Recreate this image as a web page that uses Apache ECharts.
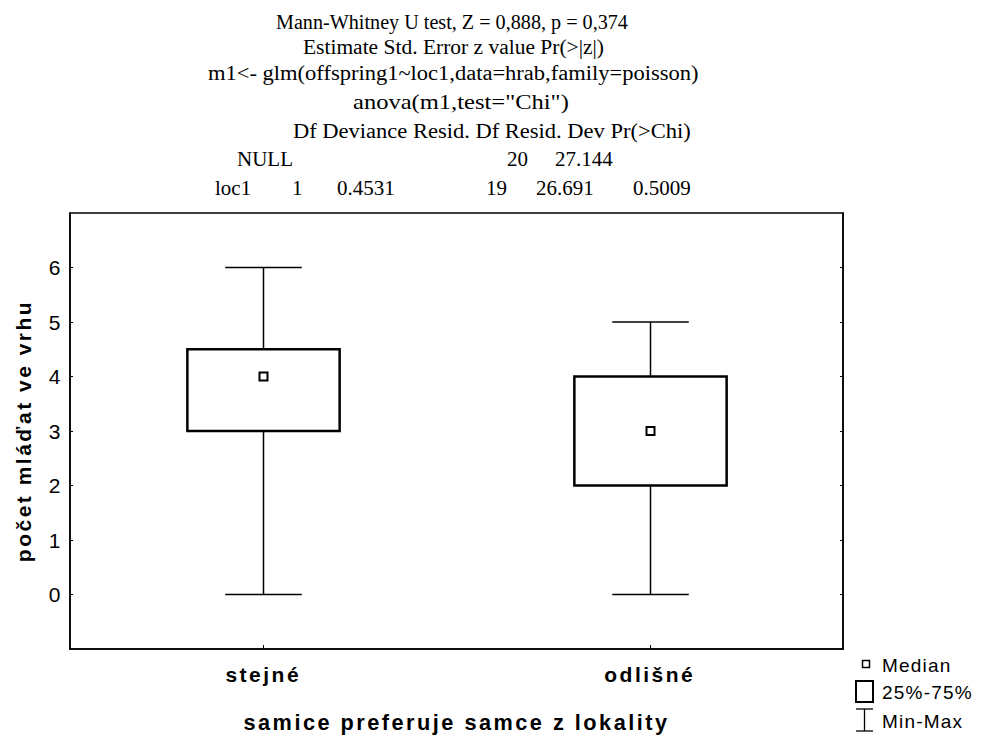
<!DOCTYPE html>
<html>
<head>
<meta charset="utf-8">
<script src="https://cdn.jsdelivr.net/npm/echarts@6/dist/echarts.min.js"></script>
<style>
html,body{margin:0;padding:0;background:#fff}
#c{width:981px;height:735px}
#c text[style*="Liberation Sans"]{letter-spacing:2.5px}
#c text[style*="Arimo"]{letter-spacing:1.2px}
</style>
</head>
<body>
<div id="c"></div>
<script>
const categories = ['stejné', 'odlišné'];
const minVals = [0, 0];
const q1Vals = [3, 2];
const medianVals = [4, 3];
const q3Vals = [4.5, 4];
const maxVals = [6, 5];
const yTicks = [0, 1, 2, 3, 4, 5, 6];
const headerLines = [
  'Mann-Whitney U test, Z = 0,888, p = 0,374',
  'Estimate Std. Error z value Pr(>|z|)',
  'm1<- glm(offspring1~loc1,data=hrab,family=poisson)',
  'anova(m1,test="Chi")',
  'Df Deviance Resid. Df Resid. Dev Pr(>Chi)'
];
const nullRow = ['NULL', '', '', '20', '27.144', ''];
const loc1Row = ['loc1', '1', '0.4531', '19', '26.691', '0.5009'];
const legendLabels = ['Median', '25%-75%', 'Min-Max'];

const data = categories.map((c, i) => [i, minVals[i], q1Vals[i], medianVals[i], q3Vals[i], maxVals[i]]);

const serif = '"Liberation Serif", "Times New Roman", serif';
const sans = '"Liberation Sans", Arial, sans-serif';
const legendSans = 'Arimo, "Liberation Sans", Arial, sans-serif';

const mctx = document.createElement('canvas').getContext('2d');
function textWidth(t, font) { mctx.font = font; return mctx.measureText(t).width; }

const graphics = [];
// [left, right] extents of each header line and vertical centre
const headerSpan = [[276, 628], [303, 604], [208, 699], [353, 569], [293, 691]];
const headerY = [22, 47, 73, 102, 131];
const headFont = '20px ' + serif;
headerLines.forEach((t, i) => {
  const w = textWidth(t, headFont);
  const sx = (headerSpan[i][1] - headerSpan[i][0]) / w;
  graphics.push({type: 'text', x: headerSpan[i][0], y: headerY[i], scaleX: sx,
    style: {text: t, font: headFont, fill: '#000', textAlign: 'left', textVerticalAlign: 'middle'}});
});
const nullX = [237, 0, 0, 507, 555, 0];
const locX = [215, 292, 337, 486, 536, 633];
[[nullRow, nullX, 159], [loc1Row, locX, 188]].forEach(([row, xs, y]) => {
  row.forEach((t, j) => {
    if (!t) return;
    graphics.push({type: 'text', x: xs[j], y: y, scaleX: 1.05,
      style: {text: t, font: headFont, fill: '#000', textAlign: 'left', textVerticalAlign: 'middle'}});
  });
});
// legend
graphics.push({type: 'rect', shape: {x: 862.5, y: 660.5, width: 7, height: 7}, style: {fill: '#fff', stroke: '#000', lineWidth: 1.5}});
graphics.push({type: 'rect', shape: {x: 856, y: 681, width: 17, height: 21}, style: {fill: '#fff', stroke: '#000', lineWidth: 2}});
graphics.push({type: 'polyline', shape: {points: [[856, 709], [873, 709]]}, style: {stroke: '#000', lineWidth: 1.3}});
graphics.push({type: 'polyline', shape: {points: [[864.5, 709], [864.5, 731]]}, style: {stroke: '#000', lineWidth: 1.3}});
graphics.push({type: 'polyline', shape: {points: [[856, 731], [873, 731]]}, style: {stroke: '#000', lineWidth: 1.3}});
[[legendLabels[0], 665], [legendLabels[1], 692], [legendLabels[2], 721]].forEach(([t, y]) => {
  graphics.push({type: 'text', x: 882, y: y,
    style: {text: t, font: '19px ' + legendSans, fill: '#000', textAlign: 'left', textVerticalAlign: 'middle'}});
});

const chart = echarts.init(document.getElementById('c'), null, {renderer: 'svg'});
chart.setOption({
  backgroundColor: '#fff',
  animation: false,
  grid: {left: 70, right: 138, top: 213, bottom: 86, outerBoundsMode: 'none', containLabel: false,
    show: true, borderColor: '#000', borderWidth: 1.5, backgroundColor: 'transparent'},
  xAxis: {
    type: 'category', data: categories, boundaryGap: true,
    name: 'samice preferuje samce z lokality', nameLocation: 'middle', nameGap: 62,
    nameTextStyle: {fontFamily: sans, fontWeight: 'bold', fontSize: 21.7, color: '#000'},
    axisLine: {onZero: false, lineStyle: {color: '#000', width: 1.5}},
    axisTick: {show: true, inside: true, alignWithLabel: true, length: 4, lineStyle: {color: '#000'}},
    axisLabel: {fontFamily: sans, fontWeight: 'bold', fontSize: 21, color: '#000', margin: 15},
    splitLine: {show: false}
  },
  yAxis: [{
    type: 'value', min: -1, max: 7, interval: 1,
    name: 'počet mláďat ve vrhu', nameLocation: 'middle', nameGap: 36,
    nameTextStyle: {fontFamily: sans, fontWeight: 'bold', fontSize: 21, color: '#000'},
    axisLine: {show: true, onZero: false, lineStyle: {color: '#000', width: 1.5}},
    axisTick: {show: true, inside: true, length: 3, lineStyle: {color: '#000'},
      customValues: yTicks},
    axisLabel: {fontFamily: sans, fontSize: 21, color: '#000', margin: 7,
      customValues: yTicks,
      formatter: v => (yTicks.indexOf(v) >= 0 ? String(v) : '')},
    splitLine: {show: false}
  }, {
    type: 'value', min: -1, max: 7, interval: 1, position: 'right',
    axisLine: {show: true, onZero: false, lineStyle: {color: '#000', width: 1.5}},
    axisTick: {show: true, inside: true, length: 3, lineStyle: {color: '#000'}, customValues: yTicks},
    axisLabel: {show: false},
    splitLine: {show: false}
  }],
  series: [{
    type: 'custom',
    data: data,
    encode: {x: 0, y: [1, 2, 3, 4, 5]},
    renderItem: function (params, api) {
      const idx = api.value(0);
      const pMin = api.coord([idx, api.value(1)]);
      const pQ1 = api.coord([idx, api.value(2)]);
      const pMed = api.coord([idx, api.value(3)]);
      const pQ3 = api.coord([idx, api.value(4)]);
      const pMax = api.coord([idx, api.value(5)]);
      const bw = api.size([1, 0])[0];
      const boxHalf = bw * 0.197;
      const capHalf = bw * 0.099;
      const cx = Math.round(pMed[0]) + 0.5;
      const lineStyle = {stroke: '#000', lineWidth: 1.5, fill: null};
      return {
        type: 'group',
        children: [
          {type: 'line', shape: {x1: cx, y1: pMax[1], x2: cx, y2: pQ3[1]}, style: lineStyle},
          {type: 'line', shape: {x1: cx, y1: pQ1[1], x2: cx, y2: pMin[1]}, style: lineStyle},
          {type: 'line', shape: {x1: cx - capHalf, y1: pMax[1], x2: cx + capHalf, y2: pMax[1]}, style: lineStyle},
          {type: 'line', shape: {x1: cx - capHalf, y1: pMin[1], x2: cx + capHalf, y2: pMin[1]}, style: lineStyle},
          {type: 'rect', shape: {x: cx - boxHalf, y: pQ3[1], width: boxHalf * 2, height: pQ1[1] - pQ3[1]},
            style: {stroke: '#000', lineWidth: 2.5, fill: '#fff'}},
          {type: 'rect', shape: {x: cx - 4, y: pMed[1] - 4, width: 8, height: 8},
            style: {stroke: '#000', lineWidth: 2, fill: '#fff'}}
        ]
      };
    }
  }],
  graphic: graphics
});
</script>
</body>
</html>
